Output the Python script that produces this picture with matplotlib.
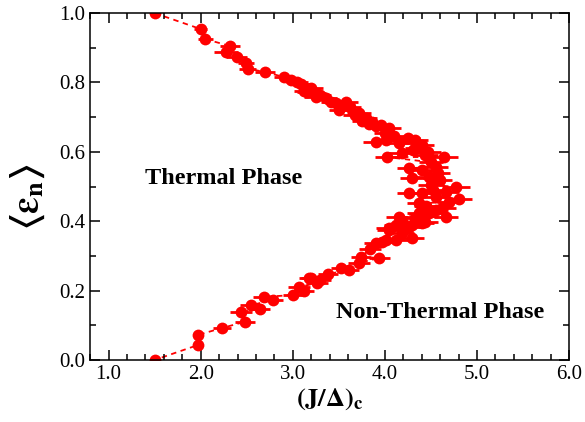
import numpy as np
import matplotlib.pyplot as plt
from matplotlib.ticker import MultipleLocator, FormatStrFormatter

plt.rcParams['font.family'] = ['Liberation Serif', 'DejaVu Serif']
plt.rcParams['mathtext.fontset'] = 'stix'

# critical coupling (J/Delta)_c, mean energy <eps_n>, and error on the coupling
jc = [1.50, 2.00, 2.05, 2.32, 2.27, 2.39, 2.49, 2.51, 2.70, 2.90,
      2.98, 3.05, 3.09, 3.12, 3.20, 3.15, 3.25, 3.25, 3.36, 3.42,
      3.47, 3.58, 3.50, 3.62, 3.72, 3.79, 3.75, 3.86, 3.90, 3.96,
      4.04, 4.00, 3.90, 4.01, 4.15, 4.25, 4.33, 4.40, 4.02, 4.18,
      4.30, 4.44, 4.64, 4.50, 4.26, 4.40, 4.55, 4.48, 4.29, 4.60,
      4.77, 4.50, 4.80, 4.26, 4.40, 4.55, 4.66, 4.37, 4.62, 4.55,
      4.48, 4.37, 4.15, 4.66, 4.44, 4.40, 4.29, 4.12, 4.26, 4.04,
      4.04, 4.18, 4.29, 4.12, 4.01, 3.97, 3.90, 3.94, 3.74, 3.72,
      3.61, 3.38, 3.26, 3.20, 3.18, 3.12, 3.07, 3.00, 2.78, 2.69,
      2.64, 2.55, 2.48, 2.44, 2.23, 1.97, 1.97, 1.50,
      3.30, 3.55, 3.68, 3.83, 4.10, 4.35, 4.47, 4.58, 4.52, 4.70,
      4.45, 4.33, 4.20, 3.84, 3.52, 3.30]
eps = [1.000, 0.954, 0.925, 0.905, 0.888, 0.873, 0.856, 0.840, 0.830, 0.816,
       0.807, 0.800, 0.795, 0.775, 0.784, 0.772, 0.770, 0.758, 0.755, 0.745,
       0.740, 0.744, 0.720, 0.730, 0.712, 0.697, 0.690, 0.686, 0.675, 0.677,
       0.669, 0.655, 0.628, 0.634, 0.625, 0.640, 0.634, 0.620, 0.585, 0.597,
       0.605, 0.590, 0.585, 0.570, 0.553, 0.548, 0.556, 0.527, 0.524, 0.520,
       0.499, 0.505, 0.464, 0.481, 0.481, 0.470, 0.484, 0.452, 0.438, 0.432,
       0.424, 0.424, 0.412, 0.412, 0.398, 0.395, 0.389, 0.389, 0.383, 0.380,
       0.375, 0.366, 0.352, 0.346, 0.346, 0.340, 0.337, 0.294, 0.297, 0.280,
       0.259, 0.248, 0.222, 0.236, 0.236, 0.200, 0.210, 0.187, 0.173, 0.182,
       0.147, 0.158, 0.110, 0.138, 0.092, 0.072, 0.043, 0.000,
       0.765, 0.735, 0.705, 0.680, 0.645, 0.610, 0.600, 0.540, 0.490, 0.455,
       0.445, 0.410, 0.395, 0.320, 0.265, 0.230]
jc_err = [0.04, 0.07, 0.08, 0.11, 0.13, 0.11, 0.09, 0.09, 0.11, 0.10,
          0.11, 0.12, 0.11, 0.11, 0.13, 0.10, 0.11, 0.13, 0.12, 0.11,
          0.12, 0.13, 0.11, 0.12, 0.13, 0.12, 0.11, 0.13, 0.11, 0.12,
          0.13, 0.12, 0.14, 0.13, 0.13, 0.13, 0.14, 0.13, 0.13, 0.14,
          0.13, 0.14, 0.15, 0.13, 0.13, 0.14, 0.13, 0.14, 0.13, 0.13,
          0.15, 0.14, 0.15, 0.13, 0.14, 0.13, 0.14, 0.13, 0.15, 0.13,
          0.14, 0.13, 0.14, 0.13, 0.14, 0.13, 0.13, 0.13, 0.13, 0.14,
          0.13, 0.14, 0.13, 0.13, 0.13, 0.12, 0.13, 0.11, 0.11, 0.12,
          0.11, 0.11, 0.12, 0.11, 0.11, 0.11, 0.12, 0.11, 0.11, 0.12,
          0.11, 0.12, 0.11, 0.12, 0.10, 0.05, 0.05, 0.04,
          0.12, 0.12, 0.13, 0.12, 0.13, 0.13, 0.14, 0.13, 0.14, 0.14,
          0.13, 0.14, 0.13, 0.12, 0.11, 0.12]

jc, eps, jc_err = np.array(jc), np.array(eps), np.array(jc_err)
order = np.argsort(-eps)  # dashed guide follows the curve from top to bottom

fig = plt.figure(figsize=(5.85, 4.22), dpi=100)
ax = fig.add_axes([0.154, 0.147, 0.819, 0.822])

ax.plot(jc[order], eps[order], ls=(0, (3, 2.5)), color='red', lw=1.3, zorder=1)
ax.errorbar(jc, eps, xerr=jc_err, fmt='o', color='red', ms=8.5, mew=0,
            elinewidth=2.0, capsize=4.5, capthick=2.0, zorder=2)

ax.text(1.40, 0.524, 'Thermal Phase', fontsize=17.5, fontweight='bold', va='center')
ax.text(3.47, 0.138, 'Non-Thermal Phase', fontsize=17.5, fontweight='bold', va='center')

ax.set_xlim(0.8, 6.0)
ax.set_ylim(0.0, 1.0)
ax.xaxis.set_major_locator(MultipleLocator(1.0))
ax.xaxis.set_minor_locator(MultipleLocator(0.2))
ax.yaxis.set_major_locator(MultipleLocator(0.2))
ax.yaxis.set_minor_locator(MultipleLocator(0.1))
ax.xaxis.set_major_formatter(FormatStrFormatter('%.1f'))
ax.yaxis.set_major_formatter(FormatStrFormatter('%.1f'))
ax.tick_params(which='both', direction='in', top=True, right=True,
               labelsize=15, width=1.1)
ax.tick_params(which='major', length=7)
ax.tick_params(which='minor', length=4)
for s in ax.spines.values():
    s.set_linewidth(1.1)

ax.set_xlabel(r'$\mathbf{(J/\Delta)_c}$', fontsize=19, labelpad=2)
ax.set_ylabel(r'$\mathbf{\langle \varepsilon_n \rangle}$', fontsize=27)
ax.yaxis.set_label_coords(-0.09, 0.47)

fig.savefig('out.png', dpi=100)
